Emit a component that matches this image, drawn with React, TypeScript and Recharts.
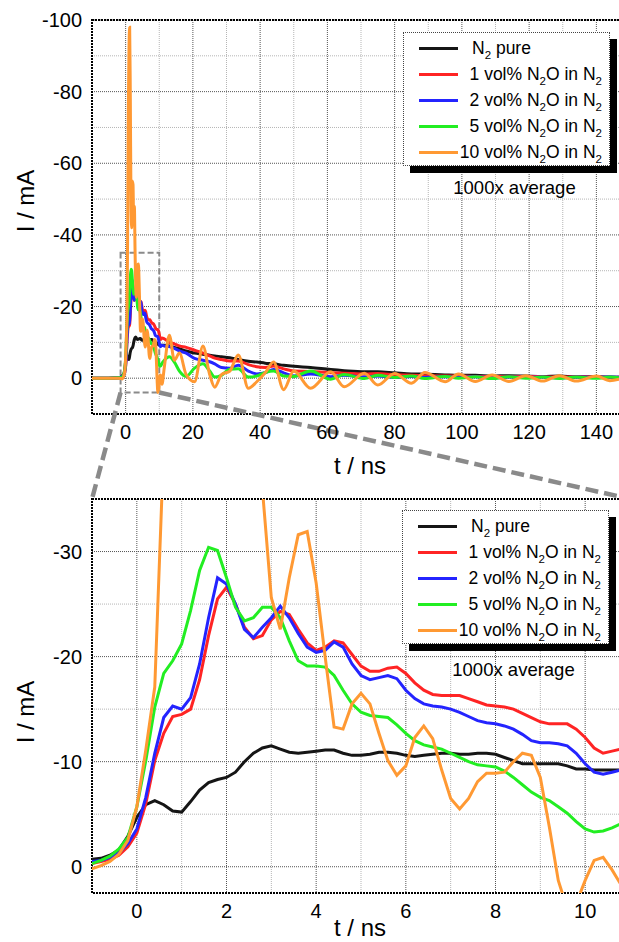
import React from 'react';
import { LineChart, Line, XAxis, YAxis, CartesianGrid, ReferenceArea, ReferenceLine, Legend } from 'recharts';

// ---------- data ----------
const TIME = [-10, -5, -2, -1.4,
  -1.0, -0.8, -0.6, -0.4, -0.2, 0, 0.2, 0.4, 0.6, 0.8,
  1.0, 1.2, 1.4, 1.6, 1.8, 2.0, 2.2, 2.4, 2.6, 2.8,
  3.0, 3.2, 3.4, 3.6, 3.8, 4.0, 4.2, 4.4, 4.6, 4.8,
  5.0, 5.2, 5.4, 5.6, 5.8, 6.0, 6.2, 6.4, 6.6, 6.8,
  7.0, 7.2, 7.4, 7.6, 7.8, 8.0, 8.2, 8.4, 8.6, 8.8,
  9.0, 9.2, 9.4, 9.6, 9.8, 10.0, 10.2, 10.4, 10.6, 10.8,
  11.5, 13, 14.5, 16, 18, 20.5, 23, 25, 26.5, 28.5,
  31, 33.5, 36.5, 39, 41.5, 44, 47, 50, 55, 61,
  65, 71, 75, 80, 85, 89, 95, 99, 104, 109,
  114, 119, 124, 129, 134, 140, 144, 148];

const N2_PURE = [0, 0, -0.1, -0.3,
  -0.7, -0.8, -1.1, -1.6, -2.9, -4.7, -5.9, -6.3, -5.9, -5.3,
  -5.2, -6.2, -7.3, -8.0, -8.3, -8.5, -9.0, -10.0, -10.8, -11.3,
  -11.5, -11.2, -10.9, -10.8, -10.9, -11.0, -11.1, -11.1, -10.8, -10.6,
  -10.6, -10.7, -10.9, -10.9, -10.8, -10.6, -10.5, -10.6, -10.7, -10.8,
  -10.8, -10.7, -10.7, -10.8, -10.8, -10.7, -10.4, -10.1, -9.8, -9.8,
  -9.8, -9.8, -9.8, -9.6, -9.3, -9.3, -9.2, -9.2, -9.2, -9.2,
  -9.2, -9.0, -8.6, -8.2, -7.6, -7.0, -6.7, -6.4, -6.2, -6.0,
  -5.7, -5.2, -4.7, -4.5, -4.2, -4.0, -3.6, -3.3, -3.0, -2.4,
  -2.1, -1.8, -1.8, -1.5, -1.2, -1.1, -0.9, -0.8, -0.8, -0.6,
  -0.7, -0.6, -0.5, -0.6, -0.4, -0.4, -0.3, -0.2];

const VOL1 = [0, 0, -0.1, -0.2,
  -0.3, -0.5, -0.7, -1.1, -1.9, -3.2, -6.0, -10.1, -12.7, -14.3,
  -14.5, -15.0, -17.8, -22.0, -25.5, -26.6, -25.0, -22.8, -21.7, -22.0,
  -23.5, -24.3, -24.0, -22.6, -21.3, -20.6, -20.9, -21.5, -21.3, -20.2,
  -19.1, -18.6, -18.6, -18.9, -19.0, -18.4, -17.5, -16.8, -16.4, -16.3,
  -16.3, -16.3, -16.0, -15.7, -15.4, -15.3, -15.2, -15.0, -14.6, -14.2,
  -13.8, -13.6, -13.6, -13.6, -13.1, -12.3, -11.3, -10.8, -11.0, -11.2,
  -11.0, -10.0, -9.6, -9.0, -8.6, -7.8, -7.0, -6.2, -5.6, -5.2,
  -4.8, -4.8, -3.8, -3.2, -3.0, -3.4, -2.6, -2.0, -1.9, -1.5,
  -1.4, -1.2, -1.3, -1.0, -0.8, -0.7, -0.6, -0.6, -0.5, -0.5,
  -0.4, -0.5, -0.4, -0.3, -0.4, -0.3, -0.2, -0.3];

const VOL2 = [0, 0, -0.1, -0.3,
  -0.5, -0.6, -0.9, -1.3, -2.2, -3.6, -6.6, -10.8, -14.2, -15.3,
  -15.0, -16.1, -19.3, -23.7, -27.5, -26.9, -25.0, -22.6, -21.8, -22.8,
  -23.7, -24.8, -23.7, -22.2, -20.9, -20.4, -20.6, -21.4, -20.9, -19.3,
  -18.2, -17.8, -18.0, -18.2, -17.9, -16.8, -16.0, -15.5, -15.3, -15.2,
  -15.0, -14.7, -14.3, -13.9, -13.7, -13.6, -13.4, -13.1, -12.6, -12.0,
  -11.8, -11.8, -11.7, -11.5, -10.8, -9.8, -9.0, -8.8, -9.0, -9.2,
  -9.0, -8.8, -8.3, -7.6, -7.0, -5.5, -5.0, -4.6, -4.0, -3.0,
  -2.8, -3.6, -2.0, -1.2, -1.5, -2.4, -1.5, -0.6, -1.2, -0.4,
  -0.8, -0.3, -0.6, -0.2, -0.5, -0.2, -0.4, -0.2, -0.4, -0.1,
  -0.3, -0.2, -0.3, -0.1, -0.3, -0.2, -0.3, -0.2];

const VOL5 = [0, 0, -0.1, -0.2,
  -0.3, -0.6, -1.0, -1.7, -2.8, -5.7, -10.1, -15.2, -18.4, -19.6,
  -21.2, -24.4, -28.2, -30.4, -30.1, -27.5, -24.7, -23.4, -23.7, -24.7,
  -24.7, -23.7, -21.5, -19.6, -19.1, -19.1, -19.0, -18.2, -16.8, -15.5,
  -14.7, -14.4, -14.3, -14.2, -13.5, -12.7, -12.0, -11.6, -11.4, -11.2,
  -10.8, -10.4, -10.0, -9.7, -9.6, -9.5, -9.1, -8.5, -7.8, -7.1,
  -6.6, -6.3, -5.7, -5.1, -4.3, -3.6, -3.3, -3.4, -3.7, -4.1,
  -5.0, -6.0, -4.5, -2.0, -0.5, -2.8, -4.0, -2.0, -0.3, -0.8,
  -2.5, -2.6, -0.3, -0.6, -1.6, -2.0, -0.6, -0.5, -2.0, 0.3,
  -1.0, 0.1, -0.8, -0.2, -0.6, 0.1, -0.5, 0.0, -0.4, 0.1,
  -0.4, 0.0, -0.3, 0.1, -0.3, 0.0, -0.3, 0.0];

const VOL10 = [0, 0, 0, 0.1,
  0.2, -0.1, -0.5, -1.2, -2.5, -5.7, -11.1, -17.1, -40, -75,
  -92, -98, -78, -48, -42, -55, -54, -43, -48, -36,
  -25.6, -22.6, -27.5, -31.6, -31.9, -27.0, -20.0, -13.3, -13.1, -15.5,
  -16.5, -15.5, -12.7, -10.1, -8.7, -9.6, -12.3, -13.4, -12.2, -9.2,
  -6.5, -5.5, -6.5, -8.1, -8.9, -8.9, -9.0, -10.0, -10.8, -10.6,
  -8.5, -3.8, 1.3, 4.0, 3.5, 1.3, -0.6, -0.9, 0.3, 1.7,
  -3.0, -12.0, -5.0, -7.0, -1.0, 1.0, -9.0, -1.0, 2.5, -1.0,
  -2.0, -6.5, 2.8, 1.0, -1.5, -4.5, 3.2, -2.0, 2.8, -1.8,
  2.4, -1.4, 1.9, -1.3, 1.4, -1.6, 1.0, -1.2, 0.9, -0.9,
  0.9, -0.7, 0.8, -0.7, 0.8, -0.6, 0.7, 0.0];

const SERIES_KEYS = ['n2', 'v1', 'v2', 'v5', 'v10'];
const SERIES_NAMES = ['N2 pure', '1 vol% N2O in N2', '2 vol% N2O in N2', '5 vol% N2O in N2', '10 vol% N2O in N2'];
const SERIES_COLORS = ['#151515', '#ff2424', '#2424ff', '#22ee22', '#ff9933'];
const SERIES_VALUES = [N2_PURE, VOL1, VOL2, VOL5, VOL10];

const TOP_X_TICKS = [0, 20, 40, 60, 80, 100, 120, 140];
const TOP_X_MINOR = [10, 30, 50, 70, 90, 110, 130];
const TOP_Y_TICKS = [-100, -80, -60, -40, -20, 0];
const TOP_Y_MINOR = [-90, -70, -50, -30, -10];
const BOT_X_TICKS = [0, 2, 4, 6, 8, 10];
const BOT_X_MINOR = [1, 3, 5, 7, 9];
const BOT_Y_TICKS = [-30, -20, -10, 0];
const BOT_Y_MINOR = [-25, -15, -5];

const TOP_X_DOMAIN = [-10, 150];
const TOP_Y_DOMAIN = [-100, 10];
const BOT_X_DOMAIN = [-1, 11];
const BOT_Y_DOMAIN = [-35, 2.5];
const ZOOM_BOX = { x1: -1.5, x2: 10, y1: -35, y2: 4 };
const CONNECT_BOTTOM_Y = 33.7;

const data = TIME.map((t, i) => {
  const row: any = { t };
  SERIES_KEYS.forEach((k, j) => { row[k] = SERIES_VALUES[j][i]; });
  return row;
});

const FONT = '"Liberation Sans", Arial, Helvetica, sans-serif';

const withSub = (s: string) => {
  const parts = s.split('N2');
  const out: any[] = [];
  parts.forEach((p, i) => {
    out.push(<span key={'p' + i}>{p}</span>);
    if (i < parts.length - 1) {
      out.push(<span key={'n' + i}>N</span>);
      out.push(<span key={'s' + i} style={{ fontSize: 11.5, position: 'relative', top: 5 }}>2</span>);
    }
  });
  return out;
};

const makeLegend = (gap: number) => (props: any) => {
  const payload = [...(props.payload || [])].sort(
    (a: any, b: any) => SERIES_NAMES.indexOf(String(a.value)) - SERIES_NAMES.indexOf(String(b.value)));
  return (
    <div style={{ fontFamily: FONT, width: 220, color: '#000' }}>
      <div style={{ width: 205, border: '1px dotted #444', background: '#fff', boxShadow: '7px 7px 0 #000', paddingTop: 2, position: 'relative' }}>
        {payload.map((p: any, i: number) => (
          <div key={i} style={{ position: 'relative', height: 26 }}>
            <div style={{ position: 'absolute', left: 15, top: 12, width: 39, height: 3, background: p.color }} />
            <div style={{ position: 'absolute', top: 2, fontSize: 17.5, lineHeight: '22px', whiteSpace: 'nowrap', ...(i === 0 ? { left: 68 } : { right: 7 }) }}>
              {withSub(String(p.value))}
            </div>
          </div>
        ))}
      </div>
      <div style={{ width: 205, paddingLeft: 9, textAlign: 'center', fontSize: 18.5, lineHeight: '22px', marginTop: gap }}>1000x average</div>
    </div>
  );
};

const xTitle = (dy: number) => (props: any) => {
  const vb = props.viewBox || {};
  return (
    <text x={360} y={vb.y + dy} textAnchor="middle" fontSize={24} fontFamily={FONT} fill="#000">t / ns</text>
  );
};

const yTitle = (cy: number) => () => (
  <text x={25} y={cy} textAnchor="middle" dominantBaseline="central" fontSize={24} fontFamily={FONT} fill="#000"
    transform={`rotate(-90, 25, ${cy})`}>I / mA</text>
);

const tickStyle = { fill: '#000', fontSize: 20, fontFamily: FONT };

const lines = (type: any) => SERIES_KEYS.map((k, i) => (
  <Line key={k} dataKey={k} name={SERIES_NAMES[i]} type={type} stroke={SERIES_COLORS[i]} strokeWidth={3}
    dot={false} activeDot={false} isAnimationActive={false} />
));

export default function App() {
  return (
    <div style={{ position: 'absolute', left: 0, top: 0, width: 619, height: 942, overflow: 'hidden', background: '#fff' }}>
      {/* bottom (zoomed) panel */}
      <div style={{ position: 'absolute', left: 0, top: 470 }}>
        <LineChart width={640} height={472} data={data} margin={{ top: 29, right: 10, bottom: 9, left: 0 }}>
          <CartesianGrid horizontalValues={BOT_Y_MINOR} verticalValues={BOT_X_MINOR} stroke="#b5b5b5" strokeDasharray="1 1" />
          <CartesianGrid horizontalValues={BOT_Y_TICKS} verticalValues={BOT_X_TICKS} stroke="#555" strokeDasharray="1 1" />
          <XAxis dataKey="t" type="number" domain={BOT_X_DOMAIN} ticks={BOT_X_TICKS} interval={0} allowDataOverflow
            height={40} tickSize={0} tickMargin={11} axisLine={false} tickLine={false} tick={tickStyle}
            label={{ content: xTitle(43) }} />
          <YAxis type="number" domain={BOT_Y_DOMAIN} reversed ticks={BOT_Y_TICKS} interval={0} allowDataOverflow
            width={92} tickSize={0} tickMargin={10} axisLine={false} tickLine={false} tick={tickStyle}
            label={{ content: yTitle(242) }} />
          <ReferenceArea x1={BOT_X_DOMAIN[0]} x2={BOT_X_DOMAIN[1]} y1={BOT_Y_DOMAIN[0]} y2={BOT_Y_DOMAIN[1]}
            fill="none" stroke="#000" strokeWidth={2} strokeDasharray="2 1" ifOverflow="visible" />
          {lines('linear')}
          <Legend layout="vertical" align="center" verticalAlign="middle" content={makeLegend(15)} itemSorter={null as any}
            wrapperStyle={{ left: 402, top: 40, width: 225, height: 'auto' }} />
        </LineChart>
      </div>
      {/* top (overview) panel */}
      <div style={{ position: 'absolute', left: 0, top: 0 }}>
        <LineChart width={640} height={505} data={data} margin={{ top: 20, right: 10, bottom: 51, left: 0 }}>
          <CartesianGrid horizontalValues={TOP_Y_MINOR} verticalValues={TOP_X_MINOR} stroke="#b5b5b5" strokeDasharray="1 1" />
          <CartesianGrid horizontalValues={TOP_Y_TICKS} verticalValues={TOP_X_TICKS} stroke="#555" strokeDasharray="1 1" />
          <XAxis dataKey="t" type="number" domain={TOP_X_DOMAIN} ticks={TOP_X_TICKS} interval={0} allowDataOverflow
            height={40} tickSize={0} tickMargin={11} axisLine={false} tickLine={false} tick={tickStyle}
            label={{ content: xTitle(60) }} />
          <YAxis type="number" domain={TOP_Y_DOMAIN} reversed ticks={TOP_Y_TICKS} interval={0} allowDataOverflow
            width={92} tickSize={0} tickMargin={10} axisLine={false} tickLine={false} tick={tickStyle}
            label={{ content: yTitle(201) }} />
          <ReferenceArea x1={TOP_X_DOMAIN[0]} x2={TOP_X_DOMAIN[1]} y1={TOP_Y_DOMAIN[0]} y2={TOP_Y_DOMAIN[1]}
            fill="none" stroke="#000" strokeWidth={2} strokeDasharray="2 1" ifOverflow="visible" />
          {lines('monotone')}
          <ReferenceArea x1={ZOOM_BOX.x1} x2={ZOOM_BOX.x2} y1={ZOOM_BOX.y1} y2={ZOOM_BOX.y2}
            fill="none" stroke="#8a8a8a" strokeWidth={2} strokeDasharray="6 3" ifOverflow="visible" />
          <ReferenceLine segment={[{ x: ZOOM_BOX.x1, y: ZOOM_BOX.y2 }, { x: TOP_X_DOMAIN[0], y: CONNECT_BOTTOM_Y }]}
            stroke="#8a8a8a" strokeWidth={4.5} strokeDasharray="13 6" ifOverflow="visible" />
          <ReferenceLine segment={[{ x: ZOOM_BOX.x2, y: ZOOM_BOX.y2 }, { x: TOP_X_DOMAIN[1], y: CONNECT_BOTTOM_Y }]}
            stroke="#8a8a8a" strokeWidth={4.5} strokeDasharray="13 6" ifOverflow="visible" />
          <Legend layout="vertical" align="center" verticalAlign="middle" content={makeLegend(11)} itemSorter={null as any}
            wrapperStyle={{ left: 403, top: 32, width: 225, height: 'auto' }} />
        </LineChart>
      </div>
    </div>
  );
}
